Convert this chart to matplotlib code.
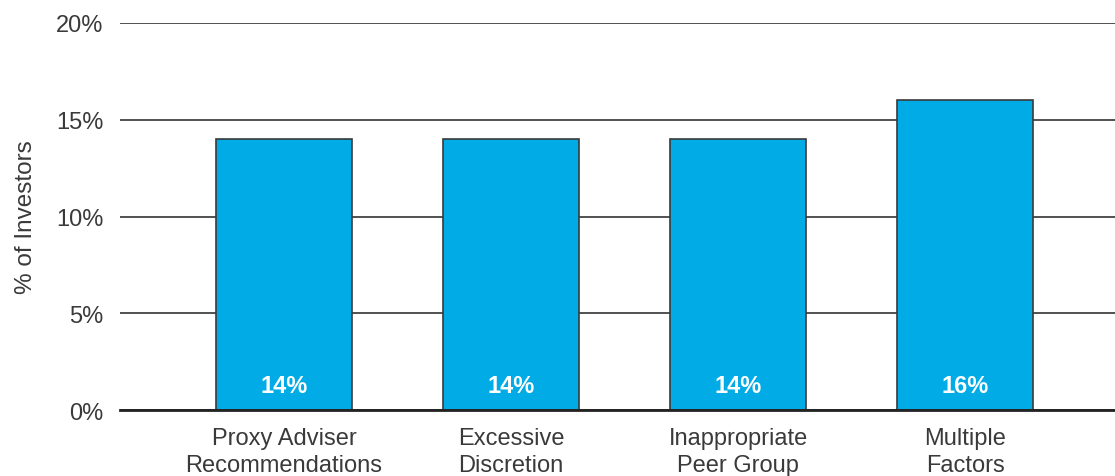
import matplotlib.pyplot as plt
import numpy as np

plt.rcParams['font.family'] = ['Liberation Sans', 'DejaVu Sans']

categories = ["Proxy Adviser\nRecommendations", "Excessive\nDiscretion",
              "Inappropriate\nPeer Group", "Multiple\nFactors"]
values = [14, 14, 14, 16]
yticks = [0, 5, 10, 15, 20]

fig = plt.figure(figsize=(11.15, 4.77), dpi=100)
ax = fig.add_axes([120 / 1115, 1 - 411 / 477, 1 - 120 / 1115, (411 - 24) / 477])

x = np.arange(len(categories))
ax.set_axisbelow(True)
ax.yaxis.grid(True, color="#333333", linewidth=1.2)
ax.bar(x, values, width=0.6, color="#00abe6", edgecolor="#3a3a3a", linewidth=1.2, zorder=2)

for xi, v in zip(x, values):
    ax.text(xi, 1.25, f"{v}%", ha="center", va="center", color="white",
            fontsize=17, fontweight="bold", zorder=3)

ax.set_xlim(-0.722, 3.66)
ax.set_ylim(0, 20)
ax.set_yticks(yticks)
ax.set_yticklabels([f"{t}%" for t in yticks], fontsize=17, color="#3a3a3a")
ax.set_xticks(x)
ax.set_xticklabels(categories, fontsize=17, color="#3a3a3a", linespacing=1.32)
ax.tick_params(length=0)
ax.tick_params(axis="y", pad=12)
ax.tick_params(axis="x", pad=12)
ax.set_ylabel("% of Investors", fontsize=17.5, color="#3a3a3a", labelpad=14)

for s in ["top", "right", "left"]:
    ax.spines[s].set_visible(False)
ax.spines["bottom"].set_linewidth(2)
ax.spines["bottom"].set_color("#222222")

fig.savefig("out.png", dpi=100)
